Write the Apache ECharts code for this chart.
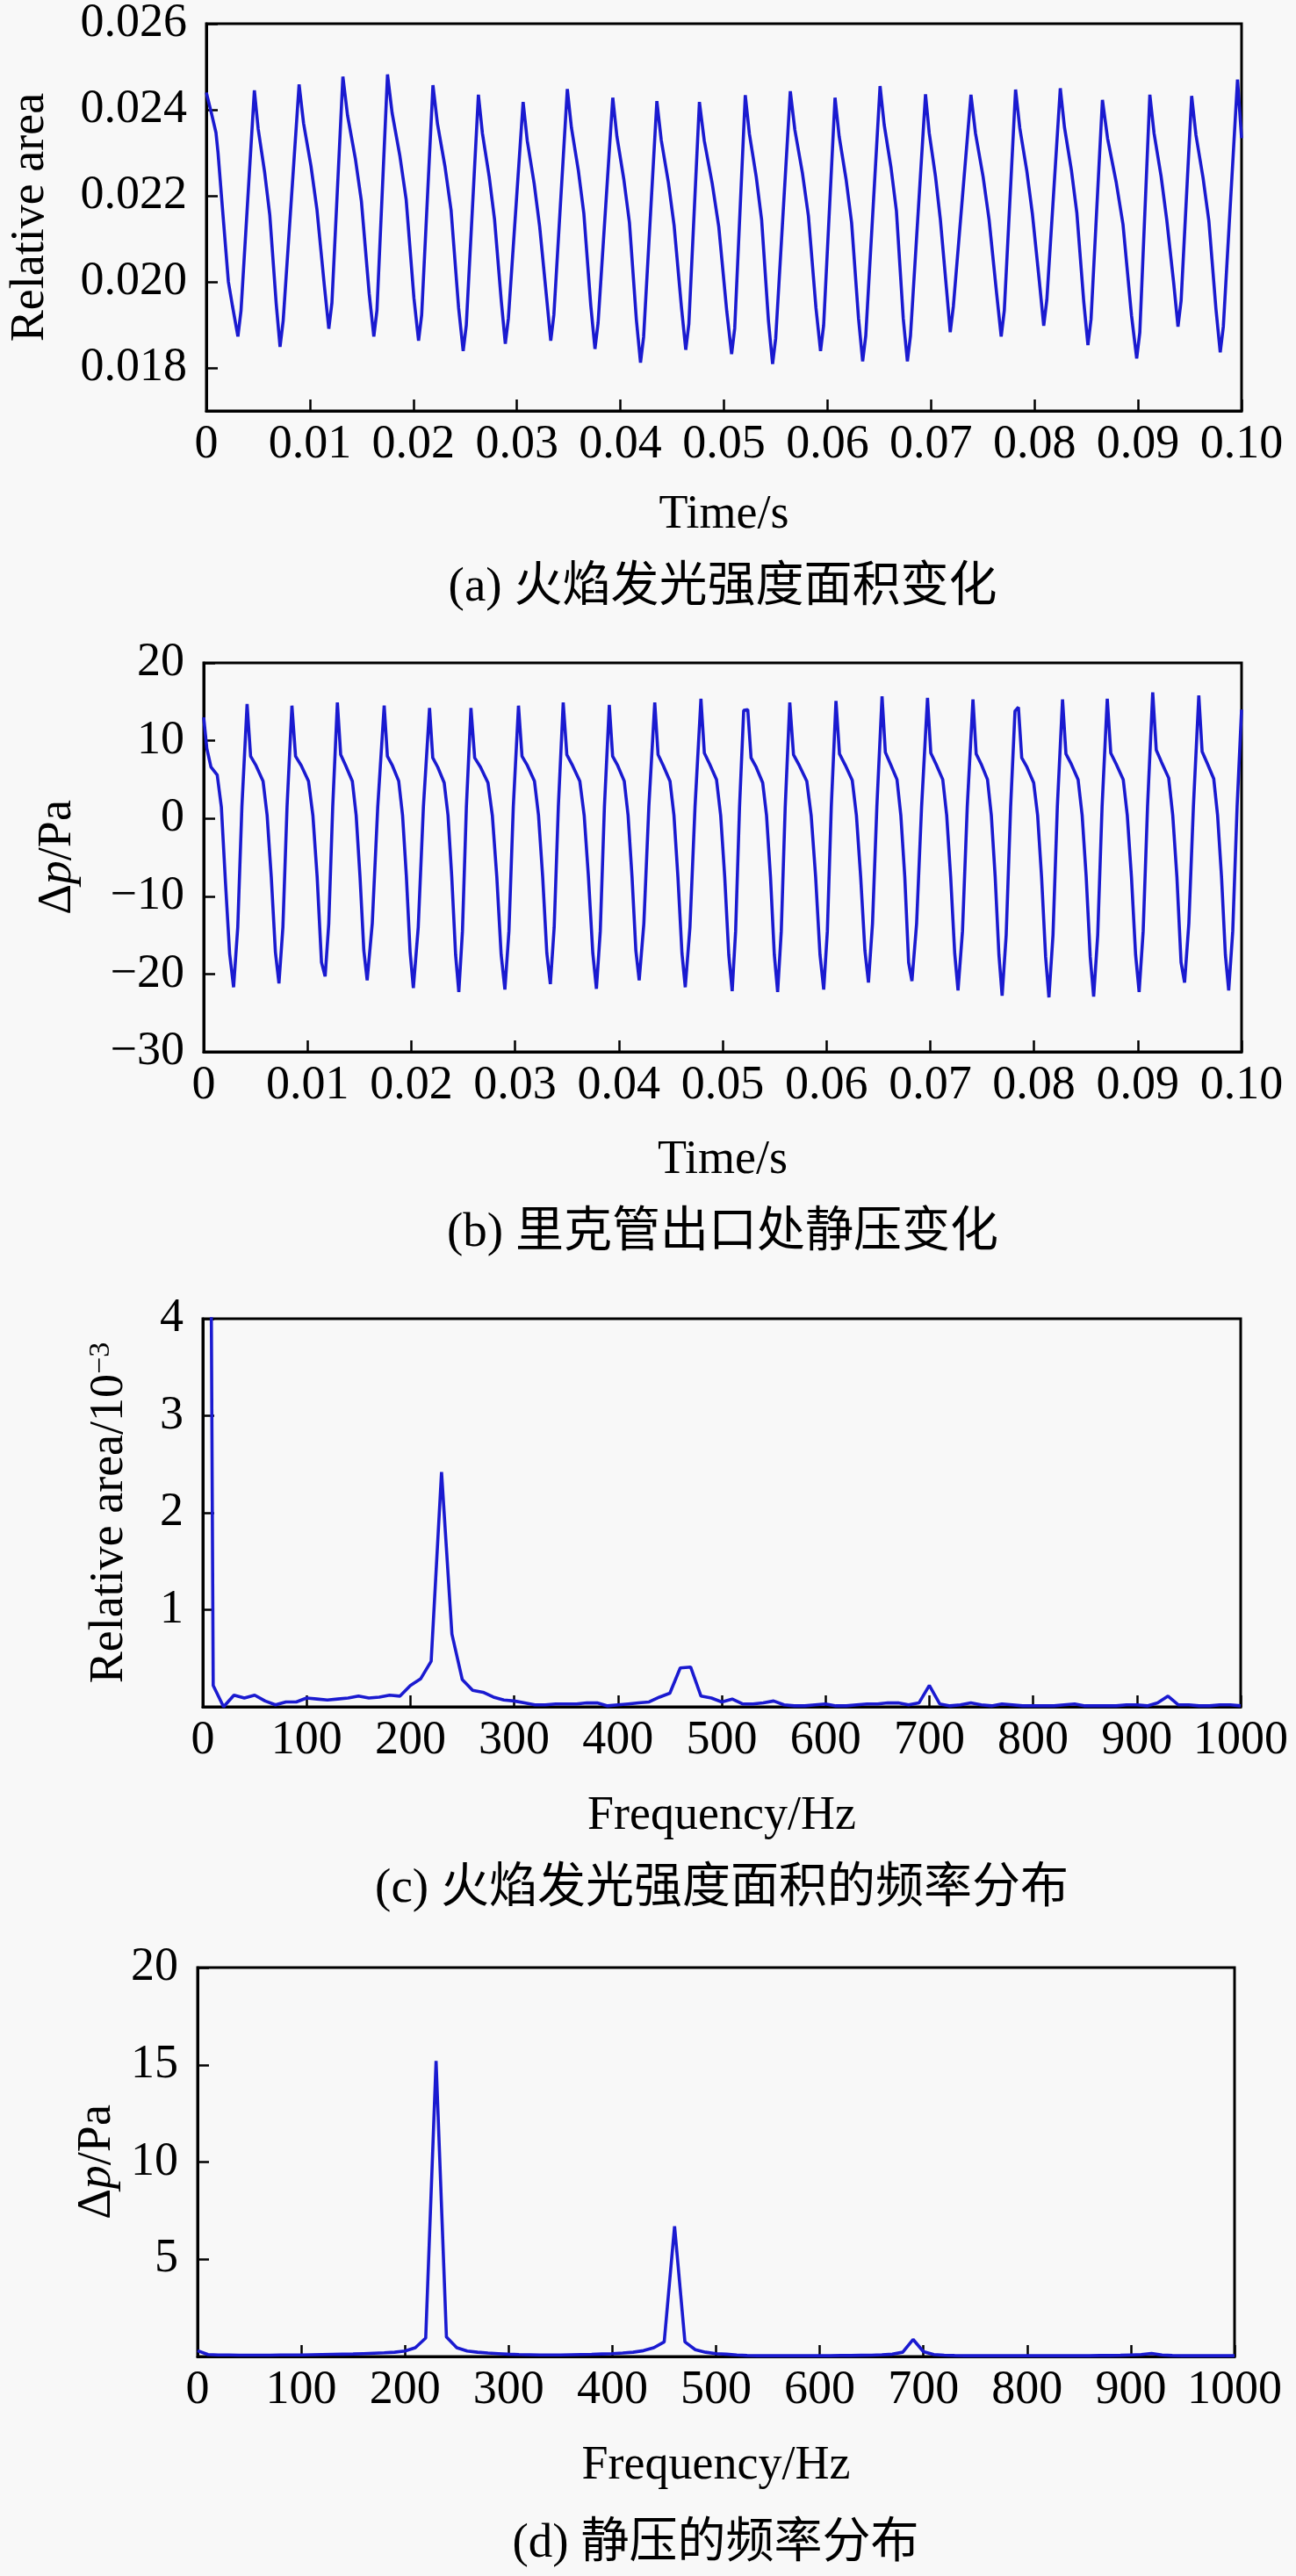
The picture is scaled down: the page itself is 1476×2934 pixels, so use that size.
<!DOCTYPE html>
<html>
<head>
<meta charset="utf-8">
<title>火焰发光强度与静压</title>
<script src="https://cdn.jsdelivr.net/npm/echarts@6/dist/echarts.min.js"></script>
<style>
  html, body { margin: 0; padding: 0; background: #f8f8f8; }
  #main { width: 1476px; height: 2934px; }
</style>
</head>
<body>
<div id="main"></div>
<script>
// (a) relative area of flame luminosity vs time
const timeA = [
  0, 0.00053, 0.00093, 0.00113, 0.00153, 0.00213, 0.00253,
  0.00305, 0.00335, 0.00464, 0.00501, 0.00563, 0.00613, 0.00675,
  0.00712, 0.00742, 0.00896, 0.00939, 0.01011, 0.01068, 0.01140,
  0.01183, 0.01213, 0.01319, 0.01364, 0.01439, 0.01498, 0.01573,
  0.01618, 0.01648, 0.01750, 0.01795, 0.01870, 0.01930, 0.02005,
  0.02050, 0.02080, 0.02189, 0.02233, 0.02306, 0.02364, 0.02437,
  0.02481, 0.02511, 0.02628, 0.02667, 0.02732, 0.02784, 0.02849,
  0.02888, 0.02918, 0.03060, 0.03100, 0.03167, 0.03220, 0.03287,
  0.03327, 0.03357, 0.03487, 0.03527, 0.03594, 0.03647, 0.03714,
  0.03754, 0.03784, 0.03926, 0.03966, 0.04033, 0.04087, 0.04154,
  0.04194, 0.04224, 0.04352, 0.04394, 0.04464, 0.04519, 0.04589,
  0.04631, 0.04661, 0.04763, 0.04810, 0.04887, 0.04950, 0.05027,
  0.05074, 0.05104, 0.05206, 0.05246, 0.05312, 0.05364, 0.05430,
  0.05470, 0.05500, 0.05641, 0.05685, 0.05758, 0.05816, 0.05889,
  0.05933, 0.05963, 0.06073, 0.06113, 0.06180, 0.06233, 0.06300,
  0.06340, 0.06370, 0.06508, 0.06548, 0.06614, 0.06666, 0.06732,
  0.06772, 0.06802, 0.06947, 0.06983, 0.07043, 0.07090, 0.07150,
  0.07186, 0.07216, 0.07386, 0.07430, 0.07503, 0.07561, 0.07634,
  0.07678, 0.07708, 0.07817, 0.07858, 0.07926, 0.07980, 0.08048,
  0.08089, 0.08119, 0.08249, 0.08289, 0.08356, 0.08409, 0.08476,
  0.08516, 0.08546, 0.08656, 0.08706, 0.08788, 0.08855, 0.08937,
  0.08987, 0.09017, 0.09114, 0.09155, 0.09223, 0.09277, 0.09345,
  0.09386, 0.09416, 0.09518, 0.09559, 0.09628, 0.09684, 0.09753,
  0.09794, 0.09824, 0.09961, 0.10000
];
const areaA = [
  0.02440, 0.02388, 0.02347, 0.02300, 0.02179, 0.02000, 0.01943,
  0.01873, 0.01933, 0.02445, 0.02355, 0.02255, 0.02155, 0.01949,
  0.01849, 0.01909, 0.02459, 0.02369, 0.02269, 0.02169, 0.01991,
  0.01891, 0.01951, 0.02477, 0.02387, 0.02287, 0.02187, 0.01973,
  0.01873, 0.01933, 0.02482, 0.02392, 0.02292, 0.02192, 0.01963,
  0.01863, 0.01923, 0.02457, 0.02367, 0.02267, 0.02167, 0.01939,
  0.01839, 0.01899, 0.02435, 0.02345, 0.02245, 0.02145, 0.01956,
  0.01856, 0.01916, 0.02418, 0.02328, 0.02228, 0.02128, 0.01963,
  0.01863, 0.01923, 0.02448, 0.02358, 0.02258, 0.02158, 0.01944,
  0.01844, 0.01904, 0.02428, 0.02338, 0.02238, 0.02138, 0.01912,
  0.01812, 0.01872, 0.02420, 0.02330, 0.02230, 0.02130, 0.01942,
  0.01842, 0.01902, 0.02418, 0.02328, 0.02228, 0.02128, 0.01932,
  0.01832, 0.01892, 0.02434, 0.02344, 0.02244, 0.02144, 0.01909,
  0.01809, 0.01869, 0.02443, 0.02353, 0.02253, 0.02153, 0.01939,
  0.01839, 0.01899, 0.02428, 0.02338, 0.02238, 0.02138, 0.01915,
  0.01815, 0.01875, 0.02455, 0.02365, 0.02265, 0.02165, 0.01915,
  0.01815, 0.01875, 0.02436, 0.02346, 0.02246, 0.02146, 0.01983,
  0.01883, 0.01943, 0.02435, 0.02345, 0.02245, 0.02145, 0.01973,
  0.01873, 0.01933, 0.02447, 0.02357, 0.02257, 0.02157, 0.01998,
  0.01898, 0.01958, 0.02450, 0.02360, 0.02260, 0.02160, 0.01953,
  0.01853, 0.01913, 0.02423, 0.02333, 0.02233, 0.02133, 0.01922,
  0.01822, 0.01882, 0.02435, 0.02345, 0.02245, 0.02145, 0.01996,
  0.01896, 0.01956, 0.02432, 0.02342, 0.02242, 0.02142, 0.01936,
  0.01836, 0.01896, 0.02470, 0.02334
];

// (b) static pressure at the Rijke tube outlet vs time, Pa
const timeB = [
  0, 0.0003, 0.0007, 0.0013, 0.0017, 0.0021, 0.0025,
  0.00288, 0.00328, 0.00368, 0.00418, 0.00452, 0.00504, 0.00572, 0.00611, 0.00651, 0.00691,
  0.00725, 0.00763, 0.00803, 0.00850, 0.00885, 0.00940, 0.01010, 0.01052, 0.01093, 0.01135,
  0.01170, 0.01205, 0.01243, 0.01288, 0.01320, 0.01368, 0.01432, 0.01469, 0.01506, 0.01543,
  0.01575, 0.01624, 0.01677, 0.01739, 0.01770, 0.01818, 0.01879, 0.01916, 0.01953, 0.01989,
  0.02020, 0.02067, 0.02117, 0.02176, 0.02207, 0.02255, 0.02317, 0.02354, 0.02390, 0.02427,
  0.02458, 0.02493, 0.02531, 0.02575, 0.02611, 0.02667, 0.02739, 0.02781, 0.02824, 0.02866,
  0.02902, 0.02941, 0.02983, 0.03033, 0.03067, 0.03119, 0.03187, 0.03226, 0.03266, 0.03306,
  0.03340, 0.03377, 0.03417, 0.03464, 0.03499, 0.03554, 0.03624, 0.03666, 0.03707, 0.03749,
  0.03784, 0.03821, 0.03861, 0.03908, 0.03940, 0.03989, 0.04052, 0.04089, 0.04127, 0.04164,
  0.04196, 0.04241, 0.04289, 0.04346, 0.04378, 0.04428, 0.04493, 0.04531, 0.04569, 0.04608,
  0.04640, 0.04685, 0.04734, 0.04791, 0.04824, 0.04875, 0.04941, 0.04981, 0.05020, 0.05059,
  0.05092, 0.05125, 0.05163, 0.05203, 0.05242, 0.05274, 0.05323, 0.05386, 0.05423, 0.05461, 0.05498,
  0.05530, 0.05565, 0.05603, 0.05647, 0.05683, 0.05739, 0.05811, 0.05853, 0.05896, 0.05938,
  0.05974, 0.06009, 0.06047, 0.06092, 0.06126, 0.06180, 0.06249, 0.06289, 0.06330, 0.06371,
  0.06405, 0.06444, 0.06486, 0.06536, 0.06568, 0.06617, 0.06680, 0.06717, 0.06755, 0.06792,
  0.06824, 0.06869, 0.06917, 0.06974, 0.07006, 0.07056, 0.07121, 0.07159, 0.07197, 0.07236,
  0.07268, 0.07311, 0.07357, 0.07412, 0.07443, 0.07491, 0.07552, 0.07589, 0.07626, 0.07662,
  0.07693, 0.07732, 0.07775, 0.07817, 0.07850, 0.07882, 0.07932, 0.07997, 0.08035, 0.08073, 0.08112,
  0.08144, 0.08183, 0.08225, 0.08275, 0.08308, 0.08359, 0.08425, 0.08464, 0.08503, 0.08542,
  0.08575, 0.08614, 0.08656, 0.08706, 0.08740, 0.08792, 0.08860, 0.08899, 0.08939, 0.08979,
  0.09013, 0.09052, 0.09094, 0.09144, 0.09178, 0.09230, 0.09298, 0.09337, 0.09377, 0.09417,
  0.09451, 0.09492, 0.09536, 0.09588, 0.09620, 0.09669, 0.09732, 0.09769, 0.09807, 0.09844,
  0.09876, 0.09915, 0.09957, 0.10000
];
const pressB = [
  13.0, 9.0, 6.6, 5.6, 1.5, -8.3, -17.4,
  -21.7, -14.0, 1.5, 14.7, 8.0, 6.8, 4.8, 0.4, -7.5, -17.2,
  -21.2, -14.0, 1.5, 14.5, 8.0, 6.8, 4.8, 0.4, -7.5, -18.5,
  -20.3, -13.5, 1.5, 14.9, 8.2, 6.8, 4.8, 0.4, -7.5, -17.0,
  -20.8, -13.5, 1.5, 14.5, 8.0, 6.8, 4.8, 0.4, -7.5, -17.2,
  -21.8, -14.0, 1.5, 14.2, 7.8, 6.6, 4.6, 0.4, -7.5, -17.5,
  -22.3, -14.5, 1.5, 14.2, 7.8, 6.6, 4.6, 0.4, -7.5, -17.5,
  -22.0, -14.5, 1.5, 14.5, 8.0, 6.8, 4.8, 0.4, -7.5, -17.3,
  -21.3, -14.0, 1.5, 14.9, 8.2, 6.8, 4.8, 0.4, -7.5, -17.3,
  -21.9, -14.5, 1.5, 14.6, 8.0, 6.8, 4.8, 0.4, -7.5, -17.0,
  -20.8, -13.5, 1.5, 14.9, 8.2, 6.8, 4.8, 0.4, -7.5, -17.3,
  -21.7, -14.0, 1.5, 15.4, 8.4, 7.0, 5.0, 0.4, -7.5, -17.5,
  -22.2, -14.5, 1.5, 13.9, 14.0, 7.8, 6.6, 4.6, 0.4, -7.5, -17.5,
  -22.3, -14.5, 1.5, 14.9, 8.2, 6.8, 4.8, 0.4, -7.5, -17.5,
  -22.0, -14.5, 1.5, 15.1, 8.3, 6.9, 4.9, 0.4, -7.5, -17.0,
  -21.1, -13.5, 1.5, 15.7, 8.5, 7.0, 5.0, 0.4, -7.5, -18.5,
  -20.9, -13.5, 1.5, 15.5, 8.4, 7.0, 5.0, 0.4, -7.5, -17.3,
  -22.1, -14.5, 1.5, 15.3, 8.3, 7.0, 5.0, 0.4, -7.5, -17.5,
  -22.8, -15.0, 1.5, 13.8, 14.3, 7.8, 6.6, 4.6, 0.4, -7.5, -17.8,
  -23.0, -15.0, 1.5, 15.3, 8.3, 7.0, 5.0, 0.4, -7.5, -17.8,
  -22.9, -15.0, 1.5, 15.4, 8.4, 7.0, 5.0, 0.4, -7.5, -17.5,
  -22.3, -14.5, 1.5, 16.2, 8.8, 7.2, 5.2, 0.4, -7.5, -18.5,
  -21.1, -13.5, 1.5, 15.8, 8.6, 7.1, 5.1, 0.4, -7.5, -17.5,
  -22.1, -14.5, 1.5, 14.0
];

// frequency bins of both spectra, 10 Hz apart
const freqStep = 10;
const freqHz = Array.from({ length: 101 }, (_, i) => i * freqStep);

// (c) spectrum of the relative area, in 10^-3
const areaSpec = [
  21.5, 0.22, 0.00, 0.12, 0.09, 0.12, 0.06, 0.02, 0.05, 0.05,
  0.09, 0.08, 0.07, 0.08, 0.09, 0.11, 0.09, 0.10, 0.12, 0.11,
  0.22, 0.29, 0.47, 2.42, 0.75, 0.28, 0.17, 0.15, 0.10, 0.07,
  0.06, 0.04, 0.02, 0.02, 0.03, 0.03, 0.03, 0.04, 0.04, 0.01,
  0.02, 0.03, 0.04, 0.05, 0.10, 0.14, 0.40, 0.41, 0.11, 0.09,
  0.05, 0.08, 0.03, 0.03, 0.04, 0.06, 0.02, 0.01, 0.01, 0.02,
  0.03, 0.01, 0.01, 0.02, 0.03, 0.03, 0.04, 0.04, 0.02, 0.04,
  0.22, 0.03, 0.01, 0.02, 0.04, 0.02, 0.01, 0.03, 0.02, 0.01,
  0.01, 0.01, 0.01, 0.02, 0.03, 0.01, 0.01, 0.01, 0.01, 0.02,
  0.02, 0.01, 0.04, 0.11, 0.02, 0.02, 0.01, 0.01, 0.02, 0.02,
  0.01
];

// (d) spectrum of the static pressure, Pa
const pressSpec = [
  0.30, 0.10, 0.08, 0.08, 0.07, 0.07, 0.07, 0.07, 0.08, 0.08,
  0.08, 0.09, 0.10, 0.11, 0.12, 0.13, 0.15, 0.17, 0.19, 0.22,
  0.28, 0.45, 0.95, 15.2, 1.00, 0.45, 0.28, 0.22, 0.18, 0.15,
  0.12, 0.10, 0.09, 0.08, 0.08, 0.08, 0.09, 0.10, 0.11, 0.13,
  0.15, 0.18, 0.22, 0.30, 0.45, 0.75, 6.70, 0.75, 0.35, 0.22,
  0.15, 0.12, 0.08, 0.05, 0.04, 0.04, 0.04, 0.04, 0.04, 0.04,
  0.04, 0.04, 0.05, 0.05, 0.06, 0.07, 0.09, 0.12, 0.22, 0.88,
  0.25, 0.10, 0.07, 0.05, 0.04, 0.04, 0.04, 0.04, 0.04, 0.04,
  0.04, 0.04, 0.04, 0.04, 0.04, 0.04, 0.04, 0.05, 0.05, 0.06,
  0.08, 0.10, 0.16, 0.08, 0.05, 0.04, 0.04, 0.04, 0.04, 0.04,
  0.04
];

const areaTicks = [0.018, 0.020, 0.022, 0.024, 0.026];
const specTicksC = [1, 2, 3, 4];
const specTicksD = [5, 10, 15, 20];

const captions = [
  '(a) 火焰发光强度面积变化',
  '(b) 里克管出口处静压变化',
  '(c) 火焰发光强度面积的频率分布',
  '(d) 静压的频率分布'
];

const zip = (xs, ys) => xs.map((x, i) => [x, ys[i]]);

const FONT = '"Liberation Serif", "Times New Roman", "Noto Sans CJK SC", serif';
const lineColor = '#1a1ad0';

function xAxisOf(gridIndex, opts) {
  return Object.assign({
    type: 'value',
    gridIndex: gridIndex,
    nameLocation: 'middle',
    nameGap: 95,
    nameTextStyle: { fontFamily: FONT, fontSize: 54, color: '#000' },
    axisLine: { onZero: false, lineStyle: { color: '#000', width: 3 } },
    axisTick: { inside: true, length: 13, lineStyle: { color: '#000', width: 2.5 } },
    splitLine: { show: false }
  }, opts);
}

function yAxisOf(gridIndex, opts) {
  return Object.assign({
    type: 'value',
    gridIndex: gridIndex,
    nameLocation: 'middle',
    nameTextStyle: { fontFamily: FONT, fontSize: 54, color: '#000' },
    axisLine: { onZero: false, lineStyle: { color: '#000', width: 3 } },
    axisTick: { inside: true, length: 13, lineStyle: { color: '#000', width: 2.5 } },
    axisLabel: { fontFamily: FONT, fontSize: 54, color: '#000', margin: 22 },
    splitLine: { show: false }
  }, opts);
}

const gridBase = { show: true, borderColor: '#000', borderWidth: 3, backgroundColor: 'transparent' };

const timeLabel = v => (v === 0 ? '0' : v.toFixed(2));
const plainLabel = v => String(v);
const xLabel = fmt => ({ fontFamily: FONT, fontSize: 54, color: '#000', margin: 12, formatter: fmt });
const dpName = '{d|Δ}{i|p}{d|/Pa}';
const dpRich = {
  d: { fontFamily: FONT, fontSize: 54, color: '#000' },
  i: { fontFamily: FONT, fontSize: 54, color: '#000', fontStyle: 'italic' }
};

const chart = echarts.init(document.getElementById('main'));

chart.setOption({
  animation: false,
  backgroundColor: '#f8f8f8',
  grid: [
    Object.assign({ left: 232, top: 25, width: 1182, height: 443 }, gridBase),
    Object.assign({ left: 232, top: 755, width: 1182, height: 443 }, gridBase),
    Object.assign({ left: 231, top: 1502, width: 1182, height: 442 }, gridBase),
    Object.assign({ left: 225, top: 2241, width: 1181, height: 443 }, gridBase)
  ],
  xAxis: [
    xAxisOf(0, { min: 0, max: 0.1, interval: 0.01, name: 'Time/s', nameGap: 92, axisLabel: xLabel(timeLabel) }),
    xAxisOf(1, { min: 0, max: 0.1, interval: 0.01, name: 'Time/s', nameGap: 97, axisLabel: xLabel(timeLabel) }),
    xAxisOf(2, { min: 0, max: 1000, interval: 100, name: 'Frequency/Hz', nameGap: 98, axisLabel: xLabel(plainLabel) }),
    xAxisOf(3, { min: 0, max: 1000, interval: 100, name: 'Frequency/Hz', nameGap: 98, axisLabel: xLabel(plainLabel) })
  ],
  yAxis: [
    yAxisOf(0, {
      min: 0.017, max: 0.026, name: 'Relative area', nameGap: 173,
      axisTick: { inside: true, length: 13, customValues: areaTicks, lineStyle: { color: '#000', width: 2.5 } },
      axisLabel: { fontFamily: FONT, fontSize: 54, color: '#000', margin: 22,
        customValues: areaTicks, formatter: v => v.toFixed(3) }
    }),
    yAxisOf(1, {
      min: -30, max: 20, interval: 10, name: dpName, nameGap: 139,
      nameTextStyle: { fontFamily: FONT, fontSize: 54, color: '#000', rich: dpRich },
      axisLabel: { fontFamily: FONT, fontSize: 54, color: '#000', margin: 22,
        formatter: v => String(v).replace('-', '\u2212') }
    }),
    yAxisOf(2, {
      min: 0, max: 4, name: '{n|Relative area/10}{s|\u22123}', nameGap: 79,
      nameTextStyle: { fontFamily: FONT, fontSize: 54, color: '#000', rich: {
        n: { fontFamily: FONT, fontSize: 54, color: '#000' },
        s: { fontFamily: FONT, fontSize: 34, color: '#000', verticalAlign: 'top', lineHeight: 54 }
      } },
      axisTick: { inside: true, length: 13, customValues: specTicksC, lineStyle: { color: '#000', width: 2.5 } },
      axisLabel: { fontFamily: FONT, fontSize: 54, color: '#000', margin: 22, customValues: specTicksC }
    }),
    yAxisOf(3, {
      min: 0, max: 20, name: dpName, nameGap: 86,
      nameTextStyle: { fontFamily: FONT, fontSize: 54, color: '#000', rich: dpRich },
      axisTick: { inside: true, length: 13, customValues: specTicksD, lineStyle: { color: '#000', width: 2.5 } },
      axisLabel: { fontFamily: FONT, fontSize: 54, color: '#000', margin: 22, customValues: specTicksD }
    })
  ],
  series: [
    { type: 'line', xAxisIndex: 0, yAxisIndex: 0, data: zip(timeA, areaA) },
    { type: 'line', xAxisIndex: 1, yAxisIndex: 1, data: zip(timeB, pressB) },
    { type: 'line', xAxisIndex: 2, yAxisIndex: 2, data: zip(freqHz, areaSpec) },
    { type: 'line', xAxisIndex: 3, yAxisIndex: 3, data: zip(freqHz, pressSpec) }
  ].map(s => Object.assign(s, {
    showSymbol: false,
    clip: true,
    lineStyle: { color: lineColor, width: 3.6 },
    itemStyle: { color: lineColor }
  })),
  graphic: [
    [823, 670], [823, 1405], [822, 2152], [815, 2898]
  ].map((p, i) => ({
    type: 'text',
    x: p[0],
    y: p[1],
    style: {
      text: captions[i],
      font: '55px ' + FONT,
      fill: '#000',
      align: 'center',
      verticalAlign: 'middle',
      textAlign: 'center',
      textVerticalAlign: 'middle'
    }
  }))
});
</script>
</body>
</html>
